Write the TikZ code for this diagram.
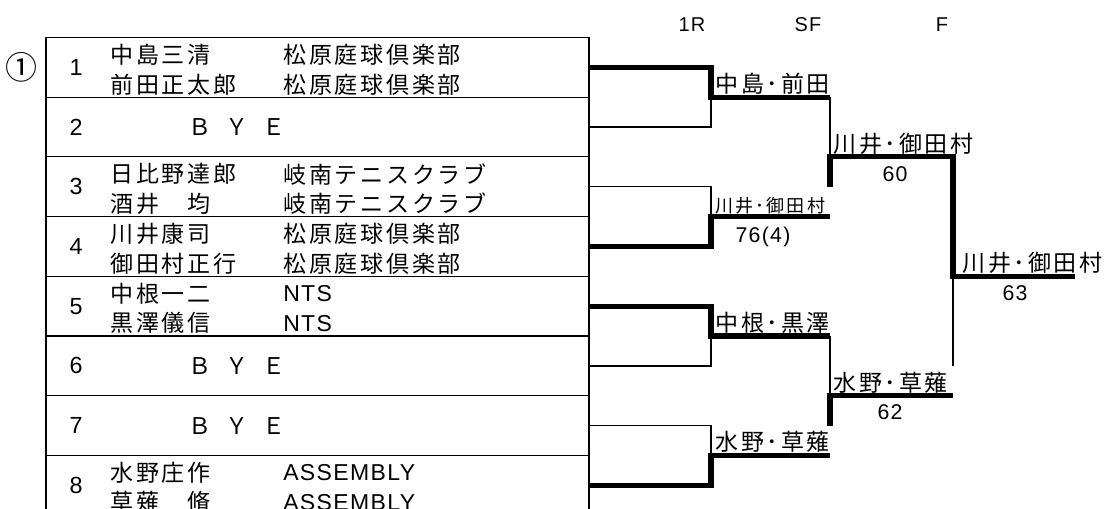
\documentclass[tikz,border=0pt]{standalone}
\usepackage{fontspec}
\setmainfont{Noto Sans CJK JP}
\newfontfamily\jpfont[LetterSpace=12]{Noto Sans CJK JP}
\newfontfamily\latinfont[LetterSpace=6]{Liberation Sans}

\begin{document}
\begin{tikzpicture}[x=0.75pt,y=-0.75pt,
    grid line/.style={line width=0.9pt},
    lose line/.style={line width=1pt},
    win line/.style={line width=3.8pt},
    player/.style={anchor=west,inner sep=0pt,font=\jpfont\fontsize{17.25pt}{20pt}\selectfont},
    seed/.style={inner sep=0pt,font=\latinfont\fontsize{17.5pt}{20pt}\selectfont},
    bye/.style={inner sep=0pt,font=\fontsize{17.25pt}{20pt}\selectfont},
    winner/.style={anchor=south west,inner sep=0pt,font=\jpfont\fontsize{17.25pt}{20pt}\selectfont},
    small winner/.style={winner,font=\jpfont\fontsize{13.5pt}{16pt}\selectfont},
    score/.style={anchor=north,inner sep=0pt,font=\latinfont\fontsize{16pt}{18pt}\selectfont},
    round label/.style={inner sep=0pt,font=\latinfont\fontsize{15pt}{17pt}\selectfont}]
  \useasboundingbox (0,0) rectangle (1107,509);

  % draw table
  \foreach \k in {0,...,7}
    \draw[grid line] (46,{37.5+59.7*\k}) -- (589,{37.5+59.7*\k});
  \draw[grid line] (46,37.5) -- (46,509) (589,37.5) -- (589,509);

  \node[seed,font=\fontsize{24pt}{26pt}\selectfont] (pool) at (22,67) {①};
  \foreach \i in {1,...,8}
    \node[seed] (no\i) at (76,{67.35+59.7*(\i-1)}) {\i};

  \foreach \i/\pa/\pb/\ca/\cb in {1/中島三清/前田正太郎/松原庭球倶楽部/松原庭球倶楽部,
      3/日比野達郎/酒井　均/岐南テニスクラブ/岐南テニスクラブ,
      4/川井康司/御田村正行/松原庭球倶楽部/松原庭球倶楽部,
      5/中根一二/黒澤儀信/\latinfont NTS/\latinfont NTS,
      8/水野庄作/草薙　脩/\latinfont ASSEMBLY/\latinfont ASSEMBLY}{
    \pgfmathsetmacro\ry{67.35+59.7*(\i-1)}
    \node[player] (pa\i) at (110,{\ry-12.5}) {\pa};
    \node[player] (pb\i) at (110,{\ry+17}) {\pb};
    \node[player] (ca\i) at (283,{\ry-12.5}) {\ca};
    \node[player] (cb\i) at (283,{\ry+17}) {\cb};
  }
  \foreach \i in {2,6,7}
    \node[bye] (bye\i) at (237,{67.35+59.7*(\i-1)}) {Ｂ\hspace{0.6em}Ｙ\hspace{0.6em}Ｅ};

  % bracket points
  \foreach \i in {1,...,8}
    \coordinate (e\i) at (589,{67.35+59.7*(\i-1)});
  \coordinate (q1) at (711,97.2);
  \coordinate (q2) at (711,216.6);
  \coordinate (q3) at (711,336);
  \coordinate (q4) at (711,455.4);
  \coordinate (s1) at (830,156.9);
  \coordinate (s2) at (830,395.7);
  \coordinate (s1end) at (830,186.75);
  \coordinate (s2end) at (830,425.55);
  \coordinate (f1) at (953,276.3);
  \coordinate (f1end) at (953,365.85);
  \coordinate (champ) at (1075,276.3);

  % 1R
  \draw[win line] (e1) -| (q1) -- (q1 -| s1);
  \draw[lose line] (e2) -| (q1);
  \draw[lose line] (e3) -| (q2);
  \draw[win line] (e4) -| (q2) -- (q2 -| s1);
  \draw[win line] (e5) -| (q3) -- (q3 -| s2);
  \draw[lose line] (e6) -| (q3);
  \draw[lose line] (e7) -| (q4);
  \draw[win line] (e8) -| (q4) -- (q4 -| s2);
  % SF and F
  \draw[lose line] (q1 -| s1) -- (s1);
  \draw[win line] (s1end) -- (s1) -- (f1 |- s1) -- (f1) -- (champ);
  \draw[lose line] (q3 -| s2) -- (s2);
  \draw[win line] (s2end) -- (s2) -- (f1 |- s2);
  \draw[lose line] (f1) -- (f1end);

  \node[round label] (h1) at (692,25) {1R};
  \node[round label] (h2) at (808,25) {SF};
  \node[round label] (h3) at (942,25) {F};

  \node[winner] (w1) at ([shift={(4,-2.5)}]q1) {中島･前田};
  \node[small winner] (w2) at ([shift={(4,-2.5)}]q2) {川井･御田村};
  \node[winner] (w3) at ([shift={(4,-2.5)}]q3) {中根･黒澤};
  \node[winner] (w4) at ([shift={(4,-2.5)}]q4) {水野･草薙};
  \node[winner] (w5) at ([shift={(3,-2.5)}]s1) {川井･御田村};
  \node[winner] (w6) at ([shift={(3,-2.5)}]s2) {水野･草薙};
  \node[winner] (w7) at ([shift={(9,-2.5)}]f1) {川井･御田村};

  \node[score] (r2) at (763,227) {76(4)};
  \node[score] (r5) at (895,166) {60};
  \node[score] (r6) at (890,404) {62};
  \node[score] (r7) at (1015,285) {63};
\end{tikzpicture}
\end{document}
